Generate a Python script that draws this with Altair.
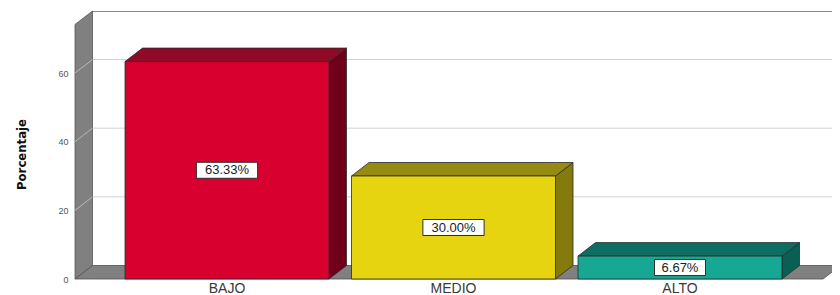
import altair as alt
import pandas as pd

# ---- data ----
categories = ["BAJO", "MEDIO", "ALTO"]
values = [63.33, 30.00, 6.67]
value_labels = ["63.33%", "30.00%", "6.67%"]
front_colors = ["#d8002e", "#e6d410", "#17a893"]
top_colors = ["#8e0a26", "#958a12", "#0c6f62"]
side_colors = ["#700019", "#847a0e", "#0a5f54"]
y_ticks = [0, 20, 40, 60]
y_title = "Porcentaje"

# ---- geometry (style) ----
W = 757            # plot width (x units = px)
H = 268            # plot height
K = 3.433          # px per percentage unit
YMAX = H / K
DX = 17.5          # depth offset in x
DY = 13.5 / K      # depth offset in y units
YTOP = YMAX - DY
BAR_START = 50
BAR_STEP = 226.5
BAR_W = 204
FLOOR_R = 748

xs = alt.Scale(domain=[0, W], nice=False, zero=False)
ys = alt.Scale(domain=[0, YMAX], nice=False, zero=False)
AX = alt.Axis(values=y_ticks)

def X(f="x"):
    return alt.X(f"{f}:Q", scale=xs, axis=None)

def Y(f="y"):
    return alt.Y(f"{f}:Q", scale=ys, title=y_title, axis=AX)

# back-plane grid
grid_df = pd.DataFrame({"x": [DX] * 3, "x2": [W] * 3, "y": [v + DY for v in y_ticks[1:]]})
grid = alt.Chart(grid_df).mark_rule(color="#d2d2d2", strokeWidth=1).encode(
    x=X(), x2="x2:Q", y=Y())
top_df = pd.DataFrame({"x": [DX], "x2": [W], "y": [YMAX - 0.15]})
top_line = alt.Chart(top_df).mark_rule(color="#8a8a8a", strokeWidth=1.2).encode(
    x=X(), x2="x2:Q", y=Y())

# left wall
wall_df = pd.DataFrame({"x": [0, DX], "lo": [0, DY], "hi": [YTOP, YMAX]})
wall = alt.Chart(wall_df).mark_area(orient="vertical", color="#808080",
                                    stroke="#555555", strokeWidth=0.8).encode(
    x=X(), y=Y("lo"), y2="hi:Q")
diag_df = pd.DataFrame({"x": [0] * 3, "x2": [DX] * 3,
                        "y": y_ticks[1:], "y2": [v + DY for v in y_ticks[1:]]})
diag = alt.Chart(diag_df).mark_rule(color="#b8b8b8", strokeWidth=1).encode(
    x=X(), x2="x2:Q", y=Y(), y2="y2:Q")

# floor
floor_df = pd.DataFrame({"x": [0, DX, FLOOR_R, FLOOR_R + DX],
                         "lo": [0, 0, 0, DY], "hi": [0, DY, DY, DY]})
floor = alt.Chart(floor_df).mark_area(orient="vertical", color="#808080",
                                      stroke="#505050", strokeWidth=0.8).encode(
    x=X(), y=Y("lo"), y2="hi:Q")

# bars
fronts, tops, sides, boxes = [], [], [], []
for i, (c, v, lab) in enumerate(zip(categories, values, value_labels)):
    x0 = BAR_START + i * BAR_STEP
    x1 = x0 + BAR_W
    xc = (x0 + x1) / 2
    fronts.append({"cat": c, "x": x0, "x2": x1, "y": 0, "y2": v, "fill": front_colors[i]})
    for px, lo, hi in [(x0, v, v), (x0 + DX, v, v + DY), (x1, v, v + DY), (x1 + DX, v + DY, v + DY)]:
        tops.append({"cat": c, "x": px, "lo": lo, "hi": hi, "fill": top_colors[i]})
    for px, lo, hi in [(x1, 0, v), (x1 + DX, DY, v + DY)]:
        sides.append({"cat": c, "x": px, "lo": lo, "hi": hi, "fill": side_colors[i]})
    hw = len(lab) * 5.1
    hh = 8 / K
    boxes.append({"cat": c, "label": lab, "xc": xc, "x": xc - hw, "x2": xc + hw,
                  "ym": v / 2, "y": v / 2 - hh, "y2": v / 2 + hh})

fronts_df = pd.DataFrame(fronts)
tops_df = pd.DataFrame(tops)
sides_df = pd.DataFrame(sides)
boxes_df = pd.DataFrame(boxes)

side_layer = alt.Chart(sides_df).mark_area(orient="vertical", stroke="#2b2b2b",
                                           strokeWidth=0.8).encode(
    x=X(), y=Y("lo"), y2="hi:Q", color=alt.Color("fill:N", scale=None))
top_layer = alt.Chart(tops_df).mark_area(orient="vertical", stroke="#2b2b2b",
                                         strokeWidth=0.8).encode(
    x=X(), y=Y("lo"), y2="hi:Q", color=alt.Color("fill:N", scale=None))
front_layer = alt.Chart(fronts_df).mark_rect(stroke="#2b2b2b", strokeWidth=0.8).encode(
    x=X(), x2="x2:Q", y=Y(), y2="y2:Q", fill=alt.Fill("fill:N", scale=None))

box_layer = alt.Chart(boxes_df).mark_rect(fill="white", stroke="#2e2e2e", strokeWidth=1).encode(
    x=X(), x2="x2:Q", y=Y(), y2="y2:Q")
label_layer = alt.Chart(boxes_df).mark_text(fontSize=13, color="#222222", font="Liberation Sans",
                                            baseline="middle", align="center").encode(
    x=X("xc"), y=Y("ym"), text="label:N")

cat_df = pd.DataFrame({"cat": categories,
                       "xc": [BAR_START + i * BAR_STEP + BAR_W / 2 for i in range(len(categories))],
                       "y": [0] * len(categories)})
cat_layer = alt.Chart(cat_df).mark_text(fontSize=14, color="#3a3a3a", font="Liberation Sans",
                                        baseline="middle", align="center", dy=10).encode(
    x=X("xc"), y=Y(), text="cat:N")

chart = alt.layer(
    grid, top_line, wall, diag, floor, side_layer, top_layer, front_layer,
    box_layer, label_layer, cat_layer
).properties(
    width=W, height=H,
    autosize=alt.AutoSizeParams(type="none"),
    padding={"left": 67, "top": 3, "right": 0, "bottom": 16},
    background="white",
).configure_view(stroke=None).configure_axisY(
    ticks=False, domain=False, grid=False,
    labelFontSize=9, labelColor="#555555", labelPadding=7,
    labelFont="Liberation Sans",
    titleFont="'Liberation Sans Narrow', 'DejaVu Sans Condensed', 'Liberation Sans', sans-serif",
    titleFontSize=13, titleFontWeight="bold", titleColor="#111111",
    titleX=-54, titleY=143, titleAngle=-90, titleBaseline="middle",
    titleAlign="center")

chart.save("out.html", embed_options={"renderer": "svg", "actions": False})
